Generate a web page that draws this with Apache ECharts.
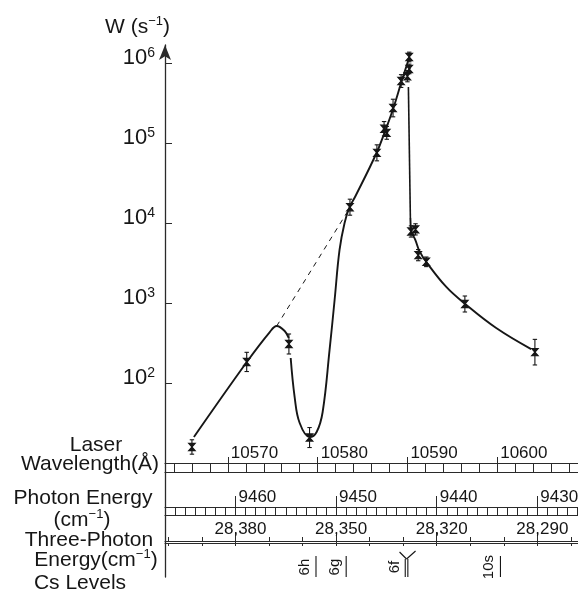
<!DOCTYPE html>
<html><head><meta charset="utf-8">
<script src="https://cdn.jsdelivr.net/npm/echarts@6/dist/echarts.min.js"></script>
<style>html,body{margin:0;padding:0;background:#fff}#c{width:578px;height:596px}</style>
</head><body><div id="c"></div>
<script>
// ---- measured data points (laser wavelength in Å, ionisation rate W in s^-1) ----
const wavelength = [10566.0, 10572.1, 10576.8, 10579.1, 10583.6, 10586.6, 10587.4, 10587.7, 10588.4, 10589.3, 10590.2, 10590.2, 10590.0, 10590.4, 10590.9, 10591.2, 10592.1, 10596.4, 10604.2];
const rate = [16, 185, 310, 21, 15900, 76000, 152000, 135000, 276000, 600000, 1200000, 850000, 690000, 7900, 8400, 4000, 3300, 980, 245];
// half-length of the error bars, in decades
const errDecades = [0.09, 0.12, 0.125, 0.125, 0.1, 0.1, 0.09, 0.08, 0.11, 0.08, 0.06, 0.06, 0.07, 0.07, 0.07, 0.07, 0.06, 0.1, 0.16];

// ---- hand-drawn guide curves ----
const curveA_wl = [10566.22, 10572.11, 10574.67, 10575.44, 10576.33, 10576.78];
const curveA_w  = [21.3, 184.6, 437, 520, 451, 368];
const curveB_wl = [10577.0, 10577.44, 10578.0, 10579.11, 10579.89, 10580.56, 10581.33, 10581.89, 10582.44, 10583.0, 10583.56, 10584.22, 10586.56, 10587.56, 10588.44, 10589.33, 10590.22];
const curveB_w  = [207, 67.4, 31.9, 21.3, 24.6, 43.8, 261, 1100, 4640, 10090, 15990, 21950, 75640, 146600, 276300, 583900, 1199000];
const branch_wl = [10589.22, 10590.33];
const branch_w  = [618000, 873000];
const drop_wl = [10590.11, 10590.33];
const drop_w  = [506000, 11640];
const curveD_wl = [10590.33, 10590.44, 10590.89, 10591.33, 10592.11, 10594.33, 10596.44, 10599.89, 10603.78];
const curveD_w  = [11640, 8010, 6180, 4520, 3280, 1600, 980, 491, 268];
const dashed_wl = [10575.44, 10583.44];
const dashed_w  = [520, 14660];

// ---- axes ----
const yTickExponents = [2, 3, 4, 5, 6];
const wlMajor = [10570, 10580, 10590, 10600];
const wlMinorStep = 2;
const peMajor = [9460, 9450, 9440, 9430];
const peMinorStep = 1;
const tpMajor = [28380, 28350, 28320, 28290];
const tpMinorStep = 10;

// ---- Cs levels (three-photon energy, cm^-1) ----
const csNames = ['6h', '6g', '6f', '10s'];
const csEnergy = [28356, 28347, 28329, 28301];
const csDoublet = [false, false, true, false];

const WL_MIN = 10563, WL_MAX = 10609;
const PE_MIN = 1e8 / WL_MAX, PE_MAX = 1e8 / WL_MIN;
const TP_MIN = 3 * PE_MIN, TP_MAX = 3 * PE_MAX;
const LOG_MIN = -0.42125, LOG_MAX = 6.22875;

function stepTicks(lo, hi, step) {
  const out = [];
  for (let v = Math.ceil(lo / step) * step; v <= hi + 1e-9; v += step) out.push(Math.round(v * 100) / 100);
  return out;
}
const wlMinor = stepTicks(WL_MIN, WL_MAX, wlMinorStep);
const peMinor = stepTicks(PE_MIN, PE_MAX, peMinorStep);
const tpMinor = stepTicks(TP_MIN, TP_MAX, tpMinorStep);

const FONT = 'Liberation Sans';
const INK = '#161616';
const AX = '#2a2a2a';

const lg = Math.log10;
const toLine = (xs, ws) => xs.map((x, i) => [x, lg(ws[i])]);
const pointData = wavelength.map((l, i) => [l, lg(rate[i]), errDecades[i]]);

function renderPoint(params, api) {
  const x = api.value(0), y = api.value(1), e = api.value(2);
  const c = api.coord([x, y]);
  const lo = api.coord([x, y - e]);
  const hi = api.coord([x, y + e]);
  const s = { stroke: INK, lineWidth: 1.1 };
  const mw = 3.2, mh = 3.6, cap = 2.2;
  return { type: 'group', children: [
    { type: 'line', shape: { x1: c[0], y1: hi[1], x2: c[0], y2: lo[1] }, style: s },
    { type: 'line', shape: { x1: c[0] - cap, y1: hi[1], x2: c[0] + cap, y2: hi[1] }, style: s },
    { type: 'line', shape: { x1: c[0] - cap, y1: lo[1], x2: c[0] + cap, y2: lo[1] }, style: s },
    { type: 'polygon', shape: { points: [[c[0] - mw, c[1] - mh], [c[0] + mw, c[1] - mh], [c[0] - mw, c[1] + mh], [c[0] + mw, c[1] + mh]] },
      style: { stroke: INK, fill: INK, lineWidth: 1.2 } }
  ] };
}

function renderLevel(params, api) {
  const i = params.dataIndex;
  const bot = api.coord([api.value(0), 0.1]);
  const top = api.coord([api.value(0), 0.8]);
  const mid = api.coord([api.value(0), 0.43]);
  const s = { stroke: INK, lineWidth: 1.1 };
  const ch = [];
  if (csDoublet[i]) {
    const fy = api.coord([api.value(0), 0.7])[1];
    ch.push({ type: 'line', shape: { x1: bot[0] - 1.3, y1: bot[1], x2: bot[0] - 1.3, y2: fy }, style: s });
    ch.push({ type: 'line', shape: { x1: bot[0] + 1.3, y1: bot[1], x2: bot[0] + 1.3, y2: fy }, style: s });
    ch.push({ type: 'line', shape: { x1: bot[0], y1: fy, x2: bot[0] - 7, y2: fy - 7 }, style: s });
    ch.push({ type: 'line', shape: { x1: bot[0], y1: fy, x2: bot[0] + 9, y2: fy - 8 }, style: s });
  } else {
    ch.push({ type: 'line', shape: { x1: bot[0], y1: bot[1], x2: top[0], y2: top[1] }, style: s });
  }
  ch.push({ type: 'text', x: mid[0] - 4, y: mid[1], rotation: Math.PI / 2,
    style: { text: csNames[i], font: '15px "' + FONT + '"', fill: INK, align: 'center', verticalAlign: 'bottom' } });
  return { type: 'group', children: ch };
}

const lineStyleMain = { color: INK, width: 1.9 };
function curve(data, extra) {
  return Object.assign({ type: 'line', xAxisIndex: 0, yAxisIndex: 0, data: data, showSymbol: false,
    symbol: 'none', lineStyle: lineStyleMain, silent: true, z: 3 }, extra || {});
}

const labelBase = { fontFamily: FONT, color: INK };

const hiddenY = (g) => ({ gridIndex: g, type: 'value', min: 0, max: 1, show: false });
const mkGrid = (top, height) => ({ left: 165, right: 0, top: top, height: height, outerBoundsMode: 'none', containLabel: false });

const option = {
  backgroundColor: '#fff',
  animation: false,
  grid: [
    mkGrid(45, 532),   // 0 main
    mkGrid(463, 9.5),  // 1 wavelength ruler
    mkGrid(507, 8),    // 2 photon energy ruler
    mkGrid(541, 2),    // 3 three-photon scale
    mkGrid(541, 2),    // 4 three-photon majors
    mkGrid(550, 30)    // 5 Cs levels
  ],
  xAxis: [
    { gridIndex: 0, type: 'value', min: WL_MIN, max: WL_MAX, show: false },
    { gridIndex: 1, type: 'value', min: WL_MIN, max: WL_MAX, position: 'bottom',
      axisLine: { show: true, lineStyle: { color: AX, width: 1.2 } },
      axisTick: { show: true, customValues: wlMinor, inside: true, length: 9.5, lineStyle: { color: AX, width: 1 } },
      axisLabel: { show: false }, splitLine: { show: false } },
    { gridIndex: 1, type: 'value', min: WL_MIN, max: WL_MAX, position: 'top',
      axisLine: { show: true, lineStyle: { color: AX, width: 1.2 } },
      axisTick: { show: true, customValues: wlMajor, inside: false, length: 6, lineStyle: { color: AX, width: 1 } },
      axisLabel: Object.assign({ show: true, customValues: wlMajor, fontSize: 17, align: 'left', padding: [0, 0, 0, 3], margin: 1,
        formatter: v => String(v) }, labelBase),
      splitLine: { show: false } },
    { gridIndex: 2, type: 'value', min: PE_MIN, max: PE_MAX, inverse: true, position: 'bottom',
      axisLine: { show: true, lineStyle: { color: AX, width: 1.2 } },
      axisTick: { show: true, customValues: peMinor, inside: true, length: 8, lineStyle: { color: AX, width: 1 } },
      axisLabel: { show: false }, splitLine: { show: false } },
    { gridIndex: 2, type: 'value', min: PE_MIN, max: PE_MAX, inverse: true, position: 'top',
      axisLine: { show: true, lineStyle: { color: AX, width: 1.2 } },
      axisTick: { show: true, customValues: peMajor, inside: false, length: 11, lineStyle: { color: AX, width: 1 } },
      axisLabel: Object.assign({ show: true, customValues: peMajor, fontSize: 17, align: 'left', padding: [0, 0, 0, 3], margin: 1,
        formatter: v => String(v) }, labelBase),
      splitLine: { show: false } },
    { gridIndex: 3, type: 'value', min: TP_MIN, max: TP_MAX, inverse: true, position: 'bottom',
      axisLine: { show: true, lineStyle: { color: AX, width: 1 } },
      axisTick: { show: true, customValues: tpMinor, inside: false, length: 3, lineStyle: { color: AX, width: 1 } },
      axisLabel: { show: false }, splitLine: { show: false } },
    { gridIndex: 3, type: 'value', min: TP_MIN, max: TP_MAX, inverse: true, position: 'top',
      axisLine: { show: true, lineStyle: { color: AX, width: 1 } },
      axisTick: { show: true, customValues: tpMinor, inside: false, length: 4, lineStyle: { color: AX, width: 1 } },
      axisLabel: { show: false }, splitLine: { show: false } },
    { gridIndex: 4, type: 'value', min: TP_MIN, max: TP_MAX, inverse: true, position: 'top',
      axisLine: { show: false },
      axisTick: { show: true, customValues: tpMajor, inside: false, length: 11, lineStyle: { color: AX, width: 1 } },
      axisLabel: Object.assign({ show: true, customValues: tpMajor, fontSize: 17, align: 'center', padding: [0, 0, 0, 10], margin: 3,
        formatter: v => { const s = String(v); return s.slice(0, 2) + ',' + s.slice(2); } }, labelBase),
      splitLine: { show: false } },
    { gridIndex: 5, type: 'value', min: TP_MIN, max: TP_MAX, inverse: true, show: false }
  ],
  yAxis: [
    { gridIndex: 0, type: 'value', min: LOG_MIN, max: LOG_MAX,
      axisLine: { show: true, symbol: ['none', 'arrow'], symbolSize: [9, 15], lineStyle: { color: AX, width: 1.3 } },
      axisTick: { show: true, customValues: yTickExponents, inside: true, length: 7, lineStyle: { color: AX, width: 1 } },
      axisLabel: { show: true, customValues: yTickExponents, margin: 10, padding: [0, 0, 10, 0],
        formatter: v => '{b|10}{s|' + v + '}',
        rich: { b: { fontFamily: FONT, fontSize: 22, lineHeight: 24, color: INK },
                s: { fontFamily: FONT, fontSize: 14, lineHeight: 14, verticalAlign: 'top', color: INK } } },
      splitLine: { show: false } },
    hiddenY(1), hiddenY(2), hiddenY(3), hiddenY(4), hiddenY(5)
  ],
  graphic: [
    { type: 'text', x: 105, y: 27, style: { text: '{a|W (s}{s|−1}{a|)}', verticalAlign: 'middle', align: 'left',
        rich: { a: { fontFamily: FONT, fontSize: 21, lineHeight: 24, fill: INK }, s: { fontFamily: FONT, fontSize: 13, lineHeight: 13, verticalAlign: 'top', fill: INK } } } },
    { type: 'text', x: 96, y: 445, style: { text: 'Laser', font: '21px "' + FONT + '"', fill: INK, align: 'center', verticalAlign: 'middle' } },
    { type: 'text', x: 90, y: 464, style: { text: 'Wavelength(Å)', font: '21px "' + FONT + '"', fill: INK, align: 'center', verticalAlign: 'middle' } },
    { type: 'text', x: 83, y: 498, style: { text: 'Photon Energy', font: '21px "' + FONT + '"', fill: INK, align: 'center', verticalAlign: 'middle' } },
    { type: 'text', x: 82, y: 520, style: { text: '{a|(cm}{s|−1}{a|)}', align: 'center', verticalAlign: 'middle',
        rich: { a: { fontFamily: FONT, fontSize: 21, lineHeight: 24, fill: INK }, s: { fontFamily: FONT, fontSize: 13, lineHeight: 13, verticalAlign: 'top', fill: INK } } } },
    { type: 'text', x: 89, y: 540, style: { text: 'Three-Photon', font: '21px "' + FONT + '"', fill: INK, align: 'center', verticalAlign: 'middle' } },
    { type: 'text', x: 96, y: 560, style: { text: '{a|Energy(cm}{s|−1}{a|)}', align: 'center', verticalAlign: 'middle',
        rich: { a: { fontFamily: FONT, fontSize: 21, lineHeight: 24, fill: INK }, s: { fontFamily: FONT, fontSize: 13, lineHeight: 13, verticalAlign: 'top', fill: INK } } } },
    { type: 'text', x: 80, y: 583, style: { text: 'Cs Levels', font: '21px "' + FONT + '"', fill: INK, align: 'center', verticalAlign: 'middle' } }
  ],
  series: [
    curve(toLine(curveA_wl, curveA_w), { smooth: 0.4 }),
    curve(toLine(curveB_wl, curveB_w), { smooth: 0.4 }),
    curve(toLine(branch_wl, branch_w), { lineStyle: { color: INK, width: 1.3 } }),
    curve(toLine(drop_wl, drop_w), { lineStyle: { color: INK, width: 1.6 } }),
    curve(toLine(curveD_wl, curveD_w), { smooth: 0.4 }),
    curve(toLine(dashed_wl, dashed_w), { lineStyle: { color: INK, width: 1, type: [5, 5] } }),
    { type: 'custom', xAxisIndex: 0, yAxisIndex: 0, data: pointData, renderItem: renderPoint,
      encode: { x: 0, y: 1 }, clip: false, z: 5, silent: true },
    { type: 'custom', xAxisIndex: 8, yAxisIndex: 5, data: csEnergy.map(e => [e, 0.5]), renderItem: renderLevel,
      encode: { x: 0, y: 1 }, clip: false, z: 5, silent: true }
  ]
};

const chart = echarts.init(document.getElementById('c'));
chart.setOption(option);
</script>
</body></html>
